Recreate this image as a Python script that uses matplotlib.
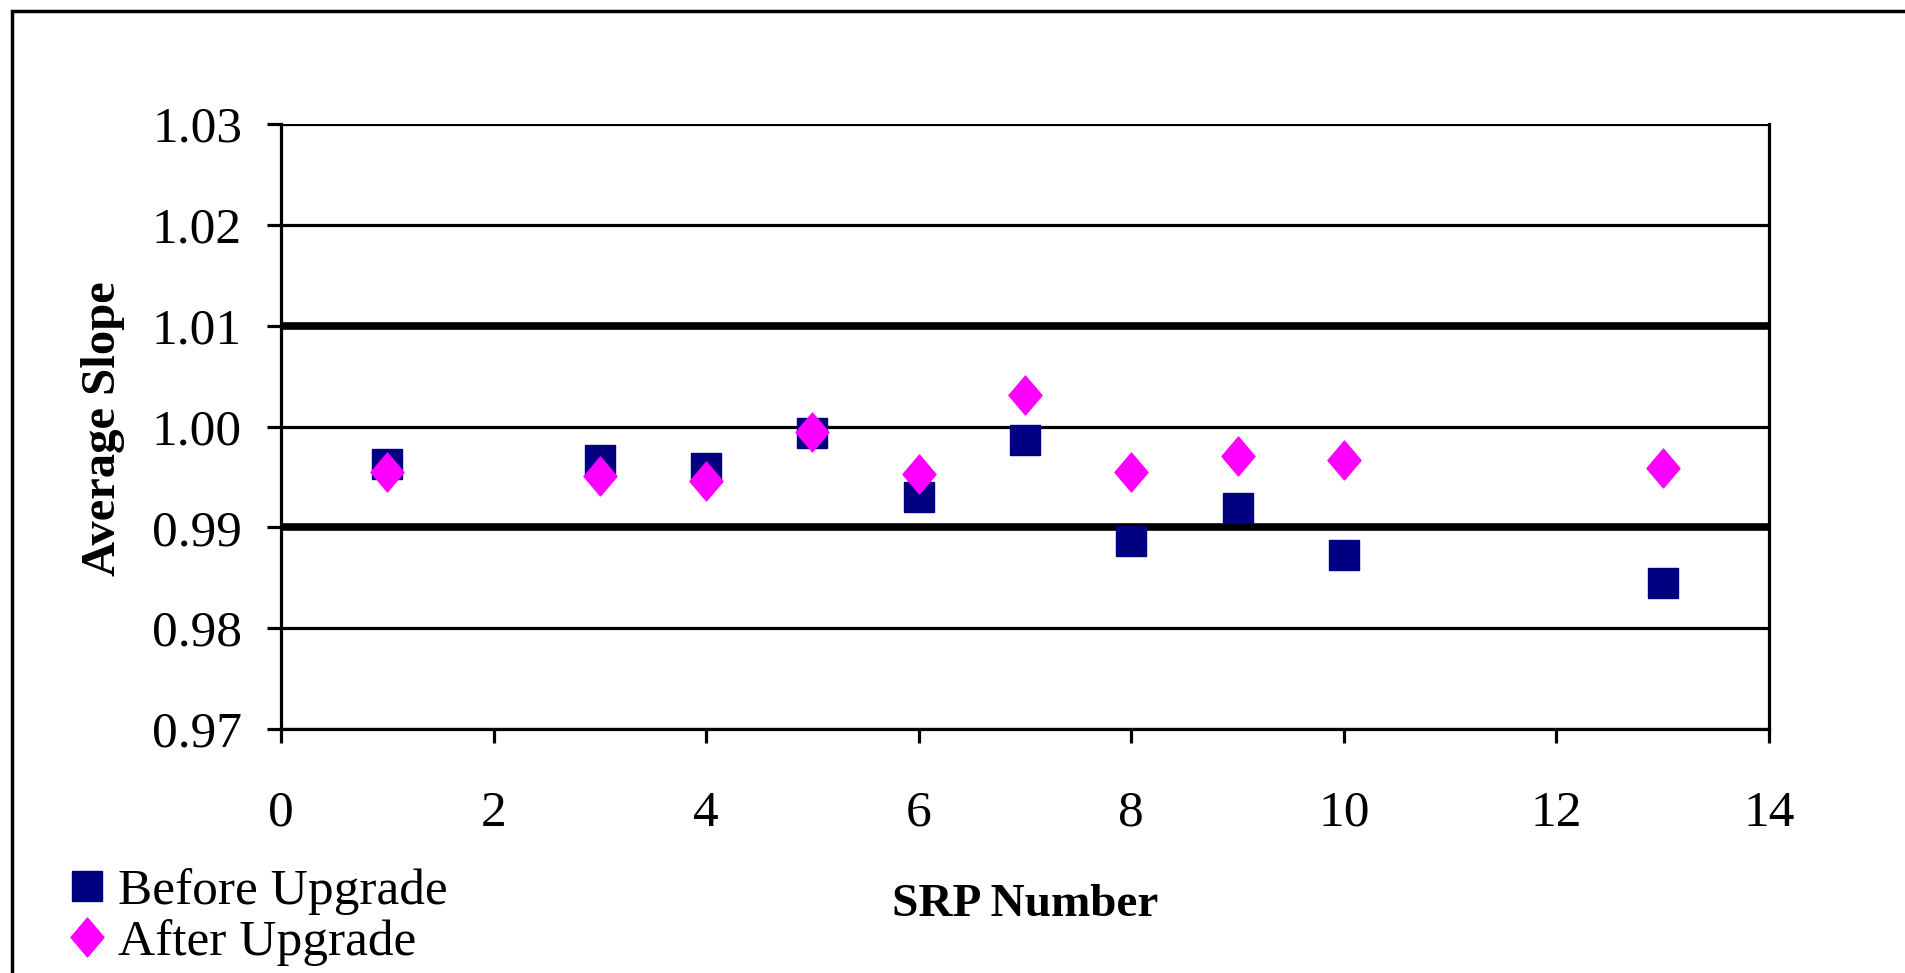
import matplotlib
matplotlib.use("Agg")
import matplotlib.pyplot as plt
from matplotlib.patches import Rectangle
from matplotlib.path import Path

srp = [1, 3, 4, 5, 6, 7, 8, 9, 10, 13]
before = [0.9963, 0.9967, 0.9959, 0.9994, 0.9930, 0.9987, 0.9886, 0.9919, 0.9873, 0.9845]
after = [0.9955, 0.9951, 0.9946, 0.9995, 0.9953, 1.0031, 0.9955, 0.9971, 0.9967, 0.9959]
limits = [1.01, 0.99]
yticks = [0.97, 0.98, 0.99, 1.00, 1.01, 1.02, 1.03]
xticks = [0, 2, 4, 6, 8, 10, 12, 14]

plt.rcParams['font.family'] = ['Liberation Serif', 'DejaVu Serif']

fig = plt.figure(figsize=(19.06, 9.73), dpi=100)
W, H = 1906, 973
ax = fig.add_axes([281 / W, 1 - 729 / H, (1769 - 281) / W, (729 - 124) / H])

# outer frame (partly cut off at right/bottom)
fig.patches.append(Rectangle((12 / W, -0.1), 1.2, 1 - 11 / H + 0.1, transform=fig.transFigure,
                             fill=False, edgecolor='black', linewidth=2.5, clip_on=False))

ax.set_xlim(0, 14)
ax.set_ylim(0.97, 1.03)
for y in yticks:
    if round(y, 2) in limits:
        continue
    ax.axhline(y, color='black', linewidth=2.3, zorder=1)
for y in limits:
    ax.axhline(y, color='black', linewidth=5.5, zorder=1)

diamond = Path([(0, 1), (0.85, 0), (0, -1), (-0.85, 0), (0, 1)],
               [Path.MOVETO, Path.LINETO, Path.LINETO, Path.LINETO, Path.CLOSEPOLY])

ax.plot(srp, before, linestyle='none', marker='s', markersize=22, color='#000080',
        markeredgecolor='#000080', label='Before Upgrade', zorder=3)
ax.plot(srp, after, linestyle='none', marker=diamond, markersize=28, color='#FF00FF',
        markeredgecolor='#FF00FF', label='After Upgrade', zorder=4)

ax.set_xticks(xticks)
ax.set_xticklabels([str(x) for x in xticks])
ax.set_yticks(yticks)
ax.set_yticklabels([f"{y:.2f}" for y in yticks])
ax.tick_params(axis='both', direction='out', length=10, width=2.3, labelsize=37, color='black')
ax.tick_params(axis='x', pad=34)
ax.tick_params(axis='y', pad=18)

for s in ['left', 'right', 'bottom']:
    ax.spines[s].set_linewidth(2.3)
ax.spines['top'].set_visible(False)

ax.set_ylabel('Average Slope', fontsize=35, fontweight='bold')
ax.yaxis.set_label_coords(-0.105, 0.497)
ax.set_xlabel('SRP Number', fontsize=34, fontweight='bold')
ax.xaxis.set_label_coords(0.5, -0.256)

leg = fig.legend(loc='upper left', bbox_to_anchor=(72 / W, 1 - 868 / H), frameon=False,
                 fontsize=37, handlelength=0.6, handletextpad=0.3, labelspacing=0.08,
                 borderpad=0, borderaxespad=0, markerscale=1.0)

fig.savefig('out.png', dpi=100)
